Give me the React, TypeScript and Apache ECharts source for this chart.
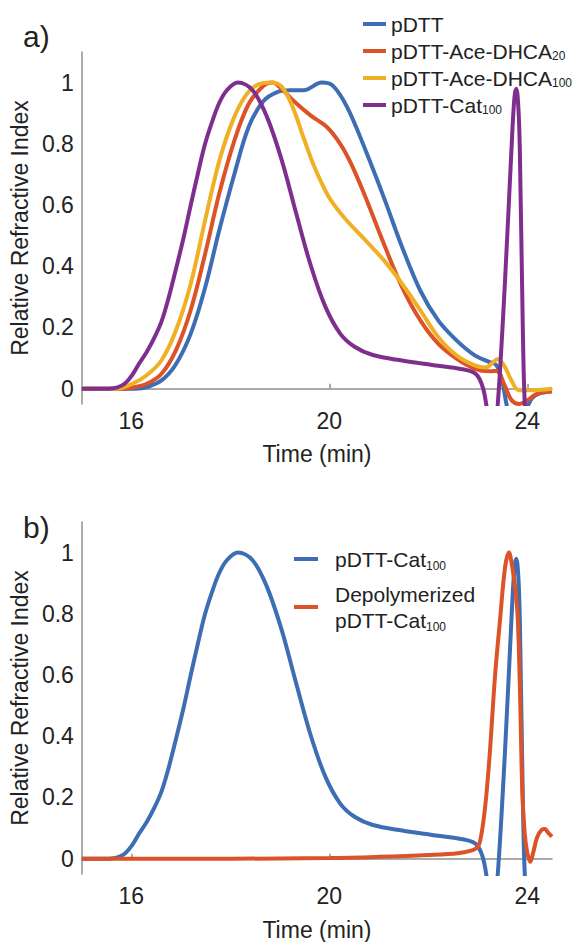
import React, { useEffect, useRef } from "react";
import * as echarts from "echarts";

// ---- Data ----
const xTicks = [16, 20, 24];
const yTicks = [0, 0.2, 0.4, 0.6, 0.8, 1];

const pdttTime = [15, 15.8, 16.16, 16.31, 16.61, 16.9, 17.2, 17.49, 17.78, 18.08, 18.37, 18.67, 18.96, 19.2, 19.48, 19.85, 20.07, 20.36, 20.73, 21.1, 21.47, 21.84, 22.2, 22.57, 22.94, 23.24, 23.38, 23.5, 23.58, 23.7, 23.85, 24.0, 24.1, 24.25, 24.5];
const pdttRI = [0, 0, 0.001, 0.005, 0.027, 0.08, 0.18, 0.33, 0.52, 0.7, 0.855, 0.94, 0.97, 0.975, 0.975, 1.0, 0.99, 0.92, 0.78, 0.626, 0.463, 0.32, 0.223, 0.158, 0.109, 0.087, 0.076, 0.02, -0.05, -0.12, -0.11, -0.06, -0.03, -0.015, -0.008];

const dhca20Time = [15, 15.8, 16.0, 16.31, 16.61, 16.9, 17.2, 17.49, 17.78, 18.08, 18.37, 18.67, 18.85, 19.0, 19.28, 19.62, 19.95, 20.22, 20.44, 20.73, 21.1, 21.47, 21.84, 22.2, 22.57, 22.94, 23.24, 23.38, 23.53, 23.68, 23.83, 24.01, 24.2, 24.5];
const dhca20RI = [0, 0, 0.003, 0.016, 0.049, 0.125, 0.257, 0.44, 0.64, 0.81, 0.93, 0.99, 1.0, 0.985, 0.94, 0.893, 0.855, 0.8, 0.735, 0.626, 0.474, 0.332, 0.223, 0.147, 0.098, 0.065, 0.057, 0.058, 0.016, -0.037, -0.05, -0.037, -0.016, -0.008];

const dhca100Time = [15, 15.7, 16.02, 16.31, 16.61, 16.9, 17.2, 17.49, 17.78, 18.08, 18.37, 18.67, 18.82, 19.04, 19.26, 19.48, 19.7, 19.99, 20.29, 20.73, 21.1, 21.47, 21.84, 22.2, 22.57, 22.94, 23.16, 23.3, 23.4, 23.53, 23.68, 23.83, 24.05, 24.5];
const dhca100RI = [0, 0, 0.016, 0.044, 0.093, 0.19, 0.343, 0.55, 0.746, 0.888, 0.97, 0.999, 1.0, 0.986, 0.92, 0.82, 0.724, 0.626, 0.561, 0.485, 0.42, 0.343, 0.256, 0.169, 0.109, 0.076, 0.069, 0.085, 0.097, 0.076, 0.027, -0.005, -0.005, 0.0];

const catTime = [15, 15.55, 15.72, 15.87, 16.02, 16.16, 16.31, 16.46, 16.61, 16.75, 16.9, 17.05, 17.2, 17.34, 17.49, 17.64, 17.78, 17.93, 18.15, 18.45, 18.74, 19.04, 19.33, 19.63, 19.92, 20.22, 20.51, 20.88, 21.47, 22.2, 22.8, 22.98, 23.1, 23.18, 23.3, 23.4, 23.55, 23.68, 23.74, 23.78, 23.82, 23.85, 23.91, 23.95, 24.05, 24.5];
const catRI = [0, 0, 0.004, 0.017, 0.045, 0.083, 0.12, 0.165, 0.22, 0.295, 0.39, 0.49, 0.6, 0.7, 0.8, 0.876, 0.935, 0.975, 1.0, 0.975, 0.888, 0.746, 0.573, 0.4, 0.268, 0.18, 0.137, 0.11, 0.092, 0.075, 0.06, 0.045, 0.005, -0.06, -0.2, -0.06, 0.35, 0.78, 0.95, 0.98, 0.92, 0.78, 0.2, -0.05, -0.3, -0.3];

const depolyTime = [15, 18, 20, 21, 22, 22.6, 22.9, 23.0, 23.05, 23.12, 23.18, 23.25, 23.35, 23.45, 23.55, 23.63, 23.7, 23.76, 23.81, 23.86, 23.9, 23.95, 24.0, 24.06, 24.12, 24.2, 24.3, 24.36, 24.42, 24.5];
const depolyRI = [0, 0, 0.002, 0.006, 0.012, 0.018, 0.028, 0.038, 0.06, 0.13, 0.22, 0.36, 0.6, 0.78, 0.95, 1.0, 0.95, 0.88, 0.78, 0.5, 0.22, 0.08, 0.02, -0.01, 0.02, 0.07, 0.095, 0.097, 0.085, 0.072];

const COLORS = {
  blue: "#3d6eb4",
  orange: "#dc5327",
  yellow: "#efb025",
  purple: "#7e2f8e",
};

const FONT = "Liberation Sans, Arial, Helvetica, sans-serif";

const pair = (t: number[], v: number[]) => t.map((x, i) => [x, v[i]]);

const legendText: Record<string, string> = {
  "pDTT": "pDTT",
  "pDTT-Ace-DHCA20": "pDTT-Ace-DHCA{sub|20}",
  "pDTT-Ace-DHCA100": "pDTT-Ace-DHCA{sub|100}",
  "pDTT-Cat100": "pDTT-Cat{sub|100}",
  "b: pDTT-Cat100": "pDTT-Cat{sub|100}",
  "b: Depolymerized pDTT-Cat100": "Depolymerized\npDTT-Cat{sub|100}",
};

export default function App() {
  const ref = useRef<HTMLDivElement>(null);
  useEffect(() => {
    if (!ref.current) return;
    const chart = echarts.init(ref.current, undefined, { renderer: "svg" });

    const axisLineStyle = { color: "#8f8f8f", width: 1.5 };
    const mkX = (gridIndex: number, nameGap: number, margin: number) => ({
      type: "value",
      gridIndex,
      min: 15,
      max: 24.5,
      name: "Time (min)",
      nameLocation: "middle",
      nameGap,
      nameTextStyle: { fontSize: 23, color: "#222", fontFamily: FONT },
      axisLine: { show: true, lineStyle: axisLineStyle },
      axisTick: { show: true, inside: true, length: 5, customValues: xTicks, lineStyle: axisLineStyle },
      axisLabel: { customValues: xTicks, fontSize: 23, color: "#222", fontFamily: FONT, margin },
      splitLine: { show: false },
    });
    const mkY = (gridIndex: number) => ({
      type: "value",
      gridIndex,
      min: -0.05,
      max: 1.1,
      name: "Relative Refractive Index",
      nameLocation: "middle",
      nameGap: 47,
      nameRotate: 90,
      nameTextStyle: { fontSize: 23, color: "#222", fontFamily: FONT },
      axisLine: { show: true, lineStyle: axisLineStyle },
      axisTick: { show: false },
      axisLabel: {
        customValues: yTicks,
        fontSize: 23,
        color: "#222",
        fontFamily: FONT,
        margin: 8,
        formatter: (v: number) => String(Math.round(v * 10) / 10),
      },
      splitLine: { show: false },
    });

    const line = (name: string, t: number[], v: number[], color: string, idx: number) => ({
      name,
      type: "line",
      xAxisIndex: idx,
      yAxisIndex: idx,
      data: pair(t, v),
      showSymbol: false,
      smooth: 0.35,
      clip: true,
      lineStyle: { color, width: 4 },
      itemStyle: { color },
    });

    const legendRich = (lh: number) => ({
      sub: { fontSize: 12, lineHeight: lh, verticalAlign: "bottom", fontFamily: FONT, color: "#222" },
    });

    chart.setOption({
      animation: false,
      backgroundColor: "#fff",
      grid: [
        { left: 81, top: 52, width: 471, height: 352 },
        { left: 81, top: 522, width: 471, height: 352 },
      ],
      xAxis: [mkX(0, 38, 5), mkX(1, 44, 10)],
      yAxis: [mkY(0), mkY(1)],
      legend: [
        {
          orient: "vertical",
          left: 363,
          top: 13,
          padding: 0,
          itemWidth: 23,
          itemHeight: 4,
          itemGap: 5,
          icon: "rect",
          selectedMode: false,
          data: ["pDTT", "pDTT-Ace-DHCA20", "pDTT-Ace-DHCA100", "pDTT-Cat100"],
          formatter: (n: string) => legendText[n] ?? n,
          textStyle: { fontSize: 21, lineHeight: 22, color: "#222", fontFamily: FONT, rich: legendRich(22) },
        },
        {
          orient: "vertical",
          left: 294,
          top: 546,
          padding: 0,
          itemWidth: 24,
          itemHeight: 4,
          itemGap: 9,
          icon: "rect",
          selectedMode: false,
          data: ["b: pDTT-Cat100", "b: Depolymerized pDTT-Cat100"],
          formatter: (n: string) => legendText[n] ?? n,
          textStyle: { fontSize: 21, lineHeight: 26, color: "#222", fontFamily: FONT, padding: [0, 0, 0, 12], rich: legendRich(26) },
        },
      ],
      graphic: [
        { type: "text", left: 23, top: 21, style: { text: "a)", fontSize: 30, fill: "#222", fontFamily: FONT } },
        { type: "text", left: 23, top: 512, style: { text: "b)", fontSize: 30, fill: "#222", fontFamily: FONT } },
      ],
      series: [
        line("pDTT", pdttTime, pdttRI, COLORS.blue, 0),
        line("pDTT-Ace-DHCA20", dhca20Time, dhca20RI, COLORS.orange, 0),
        line("pDTT-Ace-DHCA100", dhca100Time, dhca100RI, COLORS.yellow, 0),
        line("pDTT-Cat100", catTime, catRI, COLORS.purple, 0),
        line("b: pDTT-Cat100", catTime, catRI, COLORS.blue, 1),
        line("b: Depolymerized pDTT-Cat100", depolyTime, depolyRI, COLORS.orange, 1),
      ],
    });
    return () => chart.dispose();
  }, []);
  return (
    <div
      ref={ref}
      style={{ position: "fixed", left: 0, top: 0, width: 574, height: 942, background: "#fff" }}
    />
  );
}
